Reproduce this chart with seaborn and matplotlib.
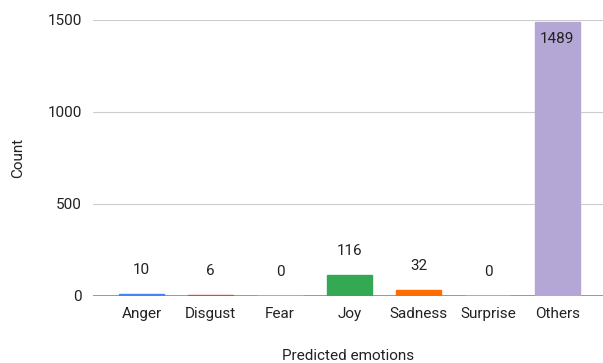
import matplotlib
matplotlib.use('Agg')
import matplotlib.pyplot as plt
import seaborn as sns
import pandas as pd

emotions = ['Anger', 'Disgust', 'Fear', 'Joy', 'Sadness', 'Surprise', 'Others']
counts = [10, 6, 0, 116, 32, 0, 1489]
colors = ['#4285F4', '#EA4335', '#FBBC04', '#34A853', '#FF6D01', '#46BDC6', '#B4A7D6']
yticks = [0, 500, 1000, 1500]

sns.set_style('white')
plt.rcParams['font.family'] = ['Roboto', 'DejaVu Sans']

df = pd.DataFrame({'emotion': emotions, 'count': counts})

fig = plt.figure(figsize=(6.03, 3.63), dpi=100)
ax = fig.add_axes([0.154, 0.185, 0.846, 0.76])
sns.barplot(data=df, x='emotion', y='count', hue='emotion', palette=colors,
            legend=False, width=0.65, ax=ax, saturation=1)
# tiny bars still show a thin line, like the original
for p, c in zip(ax.patches, counts):
    p.set_zorder(3)
    if c > 0:
        p.set_edgecolor(p.get_facecolor())
        p.set_linewidth(1.0)

ax.set_ylim(0, 1500)
ax.set_xlim(-0.7, 6.66)
ax.set_yticks(yticks)
ax.set_yticklabels([str(t) for t in yticks], color='#222222', fontsize=11)
for t in yticks[1:]:
    ax.axhline(t, color='#cccccc', lw=0.8, zorder=0)
ax.axhline(0, color='#888888', lw=1.2, zorder=2)
for s in ax.spines.values():
    s.set_visible(False)
ax.tick_params(axis='both', length=0, pad=8)
ax.tick_params(axis='x', labelsize=11, labelcolor='#222222', pad=8)

for i, c in enumerate(counts):
    if c > 1000:
        ax.text(i, c - 55, str(c), ha='center', va='top', fontsize=11, color='#222222')
    else:
        ax.text(i, c + 130, str(c), ha='center', va='center', fontsize=11, color='#222222')

ax.set_xlabel('Predicted emotions', fontsize=11, color='#222222', labelpad=20)
ax.set_ylabel('Count', fontsize=11, color='#222222', labelpad=16)

fig.savefig('out.png', dpi=100)
